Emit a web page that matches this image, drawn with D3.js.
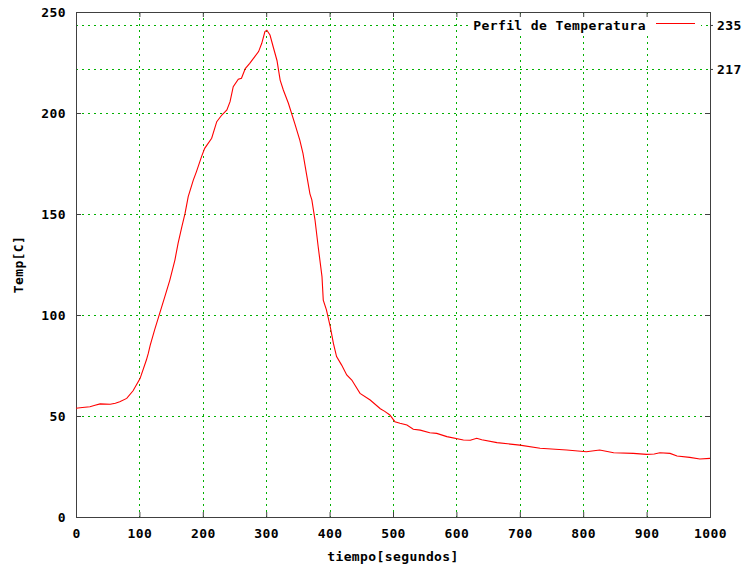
<!DOCTYPE html>
<html>
<head>
<meta charset="utf-8">
<script src="https://cdn.jsdelivr.net/npm/d3@7"></script>
<style>
  body { margin: 0; background: #fff; }
  text { font-family: "DejaVu Sans Mono", monospace; font-weight: bold; font-size: 13px; letter-spacing: 0.4px; fill: #000; }
</style>
</head>
<body>
<div id="chart"></div>
<script>
// perfil de temperatura: tiempo [s] vs temperatura [C]
const tiempo = [0, 10, 22, 30, 38, 54, 62, 69, 80, 90, 101, 111, 114, 117, 124, 132, 140, 148, 156, 161,
  167, 172, 177, 185, 190, 198, 203, 214, 222, 230, 238, 243, 248, 256, 261, 267, 274, 282, 288, 293,
  298, 301, 306, 311, 317, 322, 327, 335, 345, 353, 358, 364, 369, 372, 377, 382, 388, 390, 395, 401,
  406, 411, 419, 427, 435, 448, 464, 480, 487, 495, 503, 511, 522, 532, 543, 558, 569, 585, 611, 622,
  632, 640, 664, 700, 732, 774, 805, 826, 848, 879, 900, 912, 921, 937, 948, 968, 984, 1000];
const temp = [53.8, 54.2, 54.6, 55.3, 56, 55.8, 56.3, 57, 58.7, 62.5, 68.5, 77.7, 81, 85, 92.6, 100.8, 109, 117.3, 127.2, 135.5,
  143.7, 150.3, 158.6, 166.8, 171, 178.4, 182.5, 187.5, 195.7, 199, 201.5, 205.6, 213, 216.7, 217.2, 222, 224.6, 227.9, 230.4, 234.5,
  240.3, 241, 238.6, 232.8, 226, 216.3, 211.4, 204.8, 194.9, 186.6, 180, 169, 160, 157, 147, 133.8, 119, 107.4, 102.5, 94.2,
  86, 79.4, 75.2, 70.3, 67.8, 61.2, 57.9, 53.6, 52.3, 50.5, 47.2, 46.4, 45.5, 43.4, 43, 41.7, 41.4, 39.8, 38.1, 38,
  39, 38.2, 36.8, 35.6, 34, 33.2, 32.3, 33.2, 31.8, 31.5, 31, 31.2, 31.8, 31.5, 30.2, 29.5, 28.7, 29];

const xTicks = [0, 100, 200, 300, 400, 500, 600, 700, 800, 900, 1000];
const yTicks = [0, 50, 100, 150, 200, 250];
const y2Ticks = [235, 217];

const data = tiempo.map((t, i) => ({t: t, v: temp[i]}));

const margin = {top: 12, right: 36, bottom: 52, left: 76},
      width = 746 - margin.left - margin.right,
      height = 569 - margin.top - margin.bottom;

const x = d3.scaleLinear().domain([0, 1000]).range([0, width]);
const y = d3.scaleLinear().domain([0, 250]).range([height, 0]);
const y2 = d3.scaleLinear().domain([33.7, 240.3]).range([height, 0]);

const svg = d3.select('#chart').append('svg')
  .attr('width', 746)
  .attr('height', 569);

const g = svg.append('g')
  .attr('transform', `translate(${margin.left},${margin.top})`);

// grid
const gridColor = '#00b000';
const dash = '2,4';
g.selectAll('.gx')
  .data(xTicks.filter(d => d > 0 && d < 1000))
  .enter().append('line')
    .attr('x1', d => Math.round(x(d)) + 0.5)
    .attr('x2', d => Math.round(x(d)) + 0.5)
    .attr('y1', 0).attr('y2', height)
    .attr('stroke', gridColor)
    .attr('stroke-dasharray', dash);

g.selectAll('.gy')
  .data(yTicks.filter(d => d > 0 && d < 250))
  .enter().append('line')
    .attr('x1', 0).attr('x2', width)
    .attr('y1', d => Math.round(y(d)) + 0.5)
    .attr('y2', d => Math.round(y(d)) + 0.5)
    .attr('stroke', gridColor)
    .attr('stroke-dasharray', dash);

g.selectAll('.gy2')
  .data(y2Ticks)
  .enter().append('line')
    .attr('x1', 0).attr('x2', width)
    .attr('y1', d => Math.round(y2(d)) + 0.5)
    .attr('y2', d => Math.round(y2(d)) + 0.5)
    .attr('stroke', gridColor)
    .attr('stroke-dasharray', dash);

// legend background
g.append('rect')
  .attr('x', 396).attr('y', 5)
  .attr('width', 229).attr('height', 16)
  .attr('fill', '#fff');

// axes
const styleAxis = sel => {
  sel.select('.domain').remove();
  sel.selectAll('.tick line').attr('stroke', '#404040');
  sel.selectAll('.tick text')
    .style('font-family', '"DejaVu Sans Mono", monospace')
    .style('font-weight', 'bold')
    .style('font-size', '13px')
    .attr('fill', '#000');
};

g.append('g')
  .attr('transform', `translate(0,${height})`)
  .call(d3.axisBottom(x).tickValues(xTicks).tickFormat(d3.format('d')).tickSize(-5).tickPadding(12))
  .call(styleAxis);

g.append('g')
  .call(d3.axisTop(x).tickValues(xTicks).tickSize(-5).tickFormat(''))
  .call(styleAxis);

g.append('g')
  .call(d3.axisLeft(y).tickValues(yTicks).tickSize(-5).tickPadding(10))
  .call(styleAxis);

g.append('g')
  .attr('transform', `translate(${width},0)`)
  .call(d3.axisRight(y).tickValues(yTicks).tickSize(-5).tickFormat(''))
  .call(styleAxis);

g.append('g')
  .attr('transform', `translate(${width},0)`)
  .call(d3.axisRight(y2).tickValues(y2Ticks).tickSize(3).tickPadding(4))
  .call(styleAxis);

// border
g.append('rect')
  .attr('x', 0.5).attr('y', 0.5)
  .attr('width', width).attr('height', height)
  .attr('fill', 'none')
  .attr('stroke', '#404040');

// curve
const line = d3.line()
  .x(d => x(d.t))
  .y(d => y(d.v));

g.append('path')
  .datum(data)
  .attr('fill', 'none')
  .attr('stroke', '#ff0000')
  .attr('stroke-width', 1.1)
  .attr('d', line);

// legend
g.append('text')
  .attr('x', 570).attr('y', 13)
  .attr('dy', '0.35em')
  .attr('text-anchor', 'end')
  .text('Perfil de Temperatura');

g.append('line')
  .attr('x1', 580).attr('x2', 619)
  .attr('y1', 11.5).attr('y2', 11.5)
  .attr('stroke', '#ff0000');

// axis titles
svg.append('text')
  .attr('x', margin.left + width / 2)
  .attr('y', 556)
  .attr('dy', '0.35em')
  .attr('text-anchor', 'middle')
  .text('tiempo[segundos]');

svg.append('text')
  .attr('transform', `translate(18,${margin.top + height / 2}) rotate(-90)`)
  .attr('dy', '0.35em')
  .attr('text-anchor', 'middle')
  .text('Temp[C]');
</script>
</body>
</html>
